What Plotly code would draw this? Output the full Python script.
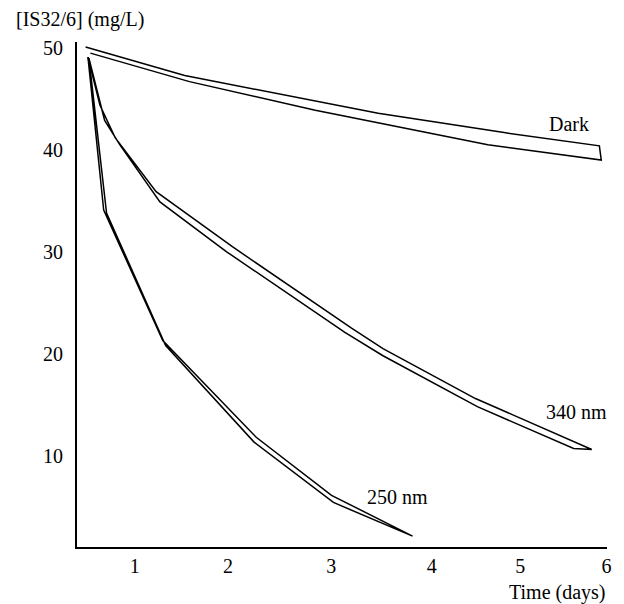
import plotly.graph_objects as go

# ---- data (days, mg/L) ----
dark_upper_t = [0.46, 1.50, 3.53, 4.85, 5.85]
dark_upper_c = [50.1, 47.3, 43.6, 41.7, 40.4]
dark_lower_t = [0.51, 1.55, 2.87, 4.68, 5.87]
dark_lower_c = [49.5, 46.7, 43.9, 40.5, 39.0]

nm340_upper_t = [0.485, 0.61, 0.77, 1.20, 2.00, 3.25, 3.58, 4.55, 5.77]
nm340_upper_c = [49.1, 44.4, 41.2, 35.9, 30.5, 22.5, 20.5, 15.6, 10.6]
nm340_lower_t = [0.495, 0.66, 0.82, 1.24, 1.94, 3.18, 3.58, 4.57, 5.58, 5.77]
nm340_lower_c = [49.0, 42.9, 40.5, 34.9, 30.0, 22.1, 19.8, 14.8, 10.7, 10.6]

nm250_upper_t = [0.485, 0.65, 1.27, 2.25, 3.04, 3.89]
nm250_upper_c = [49.1, 34.1, 21.3, 11.8, 6.1, 2.1]
nm250_lower_t = [0.495, 0.68, 1.30, 2.23, 3.06, 3.89]
nm250_lower_c = [49.0, 33.8, 20.8, 11.3, 5.4, 2.1]

x_tick_labels = ["1", "2", "3", "4", "5", "6"]
x_tick_positions = [0.975, 1.954, 3.038, 4.091, 5.019, 5.925]
y_ticks = [10, 20, 30, 40, 50]
y_tick_labels = ["10", "20", "30", "40", "50"]

series_labels = ["Dark", "340 nm", "250 nm"]
x_title = "Time (days)"
y_title = "[IS32/6] (mg/L)"

FONT = "Liberation Serif"

fig = go.Figure()

def band(ut, uc, lt, lc):
    xs = list(ut) + list(reversed(lt))
    ys = list(uc) + list(reversed(lc))
    fig.add_trace(go.Scatter(x=xs, y=ys, mode="lines",
                             line=dict(color="black", width=1.5),
                             showlegend=False, hoverinfo="skip"))

band(dark_upper_t, dark_upper_c, dark_lower_t, dark_lower_c)
band(nm340_upper_t, nm340_upper_c, nm340_lower_t, nm340_lower_c)
band(nm250_upper_t, nm250_upper_c, nm250_lower_t, nm250_lower_c)

label_pos = [(5.53, 42.5), (5.61, 14.3), (3.73, 5.9)]
for lab, (lx, ly) in zip(series_labels, label_pos):
    fig.add_annotation(x=lx, y=ly, text=lab, showarrow=False,
                       xanchor="center", yanchor="middle",
                       font=dict(family=FONT, size=20, color="black"))

fig.add_annotation(x=1.0, y=-0.091, xref="paper", yref="paper",
                   text=x_title, showarrow=False, xanchor="right", yanchor="middle",
                   font=dict(family=FONT, size=20, color="black"))
fig.add_annotation(x=0.0057, y=1.0455, xref="paper", yref="paper",
                   text=y_title, showarrow=False, xanchor="center", yanchor="middle",
                   font=dict(family=FONT, size=20, color="black"))

fig.update_layout(
    width=624, height=604,
    margin=dict(l=77, r=14, t=42, b=57),
    paper_bgcolor="white", plot_bgcolor="white",
    font=dict(family=FONT, size=20, color="black"),
    xaxis=dict(range=[0.370, 5.93], tickvals=x_tick_positions, ticktext=x_tick_labels,
               showgrid=False, zeroline=False, showline=True, linecolor="black",
               linewidth=2, ticks="", ticklen=0, ticklabelstandoff=0),
    yaxis=dict(range=[1.03, 50.59], tickvals=y_ticks, ticktext=y_tick_labels,
               showgrid=False, zeroline=False, showline=True, linecolor="black",
               linewidth=2, ticks="", ticklen=0, ticklabelstandoff=8),
)

fig.write_html("out.html", config={"displayModeBar": False},
               post_script="document.body.style.margin='0px';")
